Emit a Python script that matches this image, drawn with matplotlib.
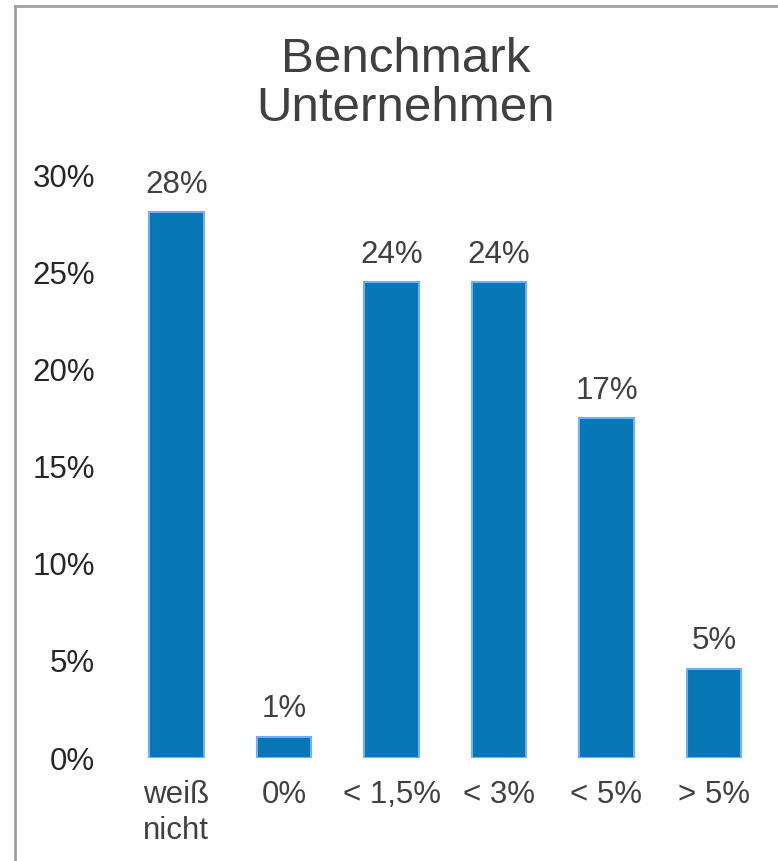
import matplotlib.pyplot as plt
from matplotlib.lines import Line2D

# Daten
kategorien = ['weiß\nnicht', '0%', '< 1,5%', '< 3%', '< 5%', '> 5%']
werte = [0.281, 0.011, 0.245, 0.245, 0.175, 0.046]
beschriftung = ['28%', '1%', '24%', '24%', '17%', '5%']
y_ticks = [0, 0.05, 0.10, 0.15, 0.20, 0.25, 0.30]
y_tick_labels = ['0%', '5%', '10%', '15%', '20%', '25%', '30%']

plt.rcParams['font.family'] = ['Liberation Sans', 'DejaVu Sans']

fig = plt.figure(figsize=(7.78, 8.61), dpi=100)
ax = fig.add_axes([0.1578, 0.1196, 0.829, 0.6767])

x = [i + 0.5 for i in range(len(kategorien))]
ax.bar(x, werte, width=0.51, color='#0777B5', edgecolor='#72AEF7', linewidth=1.5)

for xi, w, t in zip(x, werte, beschriftung):
    ax.annotate(t, (xi, w), xytext=(0, 9), textcoords='offset points',
                ha='center', va='bottom', fontsize=22.5, color='#404040')

ax.set_xlim(0, len(kategorien))
ax.set_ylim(0, 0.30)
ax.set_xticks(x)
ax.set_xticklabels(kategorien, fontsize=22.5, color='#404040', linespacing=1.25)
for lbl in ax.get_xticklabels():
    lbl.set_multialignment('left')
ax.set_yticks(y_ticks)
ax.set_yticklabels(y_tick_labels, fontsize=22.5, color='#262626')
ax.tick_params(axis='both', length=0)
ax.tick_params(axis='y', pad=20)
ax.tick_params(axis='x', pad=16)
for s in ax.spines.values():
    s.set_visible(False)

fig.text(406 / 778, 1 - 84 / 861, 'Benchmark\nUnternehmen', ha='center', va='center',
         fontsize=35.5, color='#404040', linespacing=1.12)

# Rahmen (nur links und oben sichtbar)
fig.add_artist(Line2D([14.5 / 778, 14.5 / 778], [0, 1 - 5.5 / 861], transform=fig.transFigure,
                      color='#A0A0A0', linewidth=2))
fig.add_artist(Line2D([14.5 / 778, 1], [1 - 5.5 / 861, 1 - 5.5 / 861], transform=fig.transFigure,
                      color='#A0A0A0', linewidth=2))

fig.savefig('out.png', dpi=100)
